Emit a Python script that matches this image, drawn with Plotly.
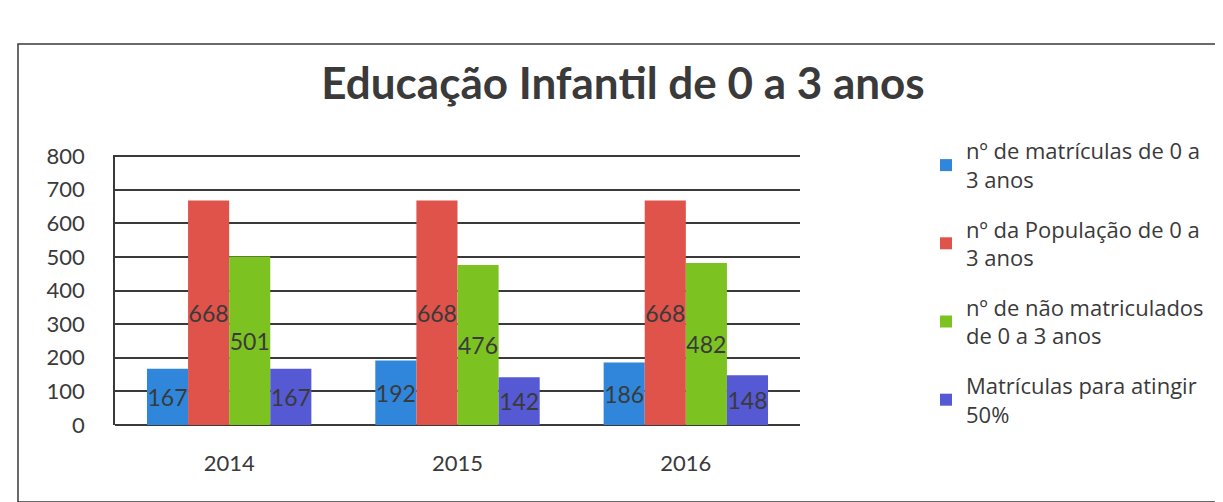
import plotly.graph_objects as go

years = ["2014", "2015", "2016"]
matriculas = [167, 192, 186]
populacao = [668, 668, 668]
nao_matriculados = [501, 476, 482]
para_atingir = [167, 142, 148]

series_names = [
    "nº de matrículas de 0 a<br>3 anos",
    "nº da População de 0 a<br>3 anos",
    "nº de não matriculados<br>de 0 a 3 anos",
    "Matrículas para atingir<br>50%",
]
series_values = [matriculas, populacao, nao_matriculados, para_atingir]
colors = ["#2F86DA", "#DF534B", "#7CC322", "#5559D3"]

W, H = 1223, 502
L, R, T, B = 107, 431, 147, 85
pw, ph = W - L - R, H - T - B

def px(x):
    return (x - L) / pw

def py(y):
    return (H - B - y) / ph

FONT = "Lato, Open Sans, sans-serif"
TXT = "#3a3a3a"

fig = go.Figure()
for i, (name, vals, c) in enumerate(zip(series_names, series_values, colors)):
    fig.add_trace(go.Bar(
        x=years, y=vals, name=name, marker=dict(color=c, line=dict(width=0)),
        text=[str(v) for v in vals], textposition="inside", insidetextanchor="middle",
        textangle=0, constraintext="none", cliponaxis=False,
        textfont=dict(family=FONT, size=23, color=TXT),
        legendgroup=f"g{i}",
    ))

fig.update_layout(
    width=W, height=H,
    margin=dict(l=L, r=R, t=T, b=B),
    paper_bgcolor="white", plot_bgcolor="white",
    barmode="group", bargap=0.28, bargroupgap=0,
    title=dict(text="<b>Educação Infantil de 0 a 3 anos</b>", xref="container", x=615 / W,
               xanchor="center", yref="container", y=1 - 76 / H, yanchor="middle",
               font=dict(family=FONT, size=44, color=TXT)),
    font=dict(family=FONT, color=TXT),
    legend=dict(x=px(918), y=py(122), xanchor="left", yanchor="top",
                font=dict(family="Open Sans, sans-serif", size=22, color=TXT),
                tracegroupgap=18, bgcolor="rgba(0,0,0,0)", itemwidth=30, maxheight=420),
    xaxis=dict(showgrid=False, showline=False, ticks="", tickfont=dict(size=22, color=TXT),
               ticklabelstandoff=23),
    yaxis=dict(range=[0, 803], tickvals=[0, 100, 200, 300, 400, 500, 600, 700, 800],
               showgrid=True, gridcolor="#3a3a3a", gridwidth=1.5,
               showline=True, linecolor="#3a3a3a", linewidth=1.5, ticks="",
               tickfont=dict(size=22, color=TXT), zeroline=True, zerolinecolor="#3a3a3a",
               zerolinewidth=1.5, ticklabelstandoff=24),
    shapes=[dict(type="rect", xref="paper", yref="paper",
                 x0=px(10), x1=px(1230), y0=py(494), y1=py(36),
                 line=dict(color="#3a3a3a", width=1.5), fillcolor="rgba(0,0,0,0)", layer="below")],
)

fig.write_html("out.html")
